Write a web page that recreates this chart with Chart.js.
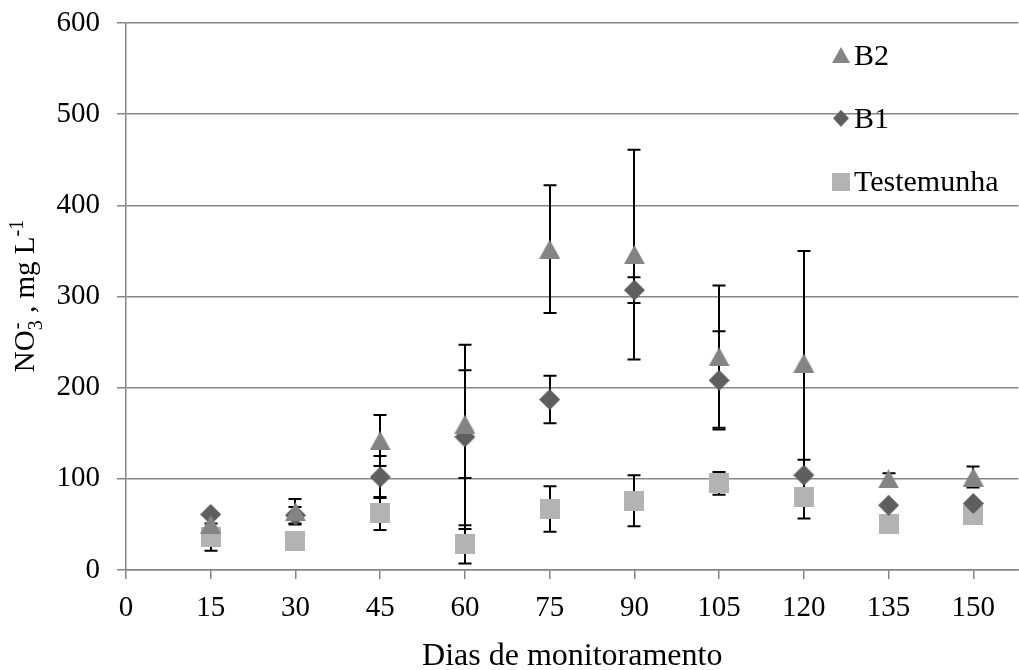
<!DOCTYPE html>
<html>
<head>
<meta charset="utf-8">
<title>NO3 - Dias de monitoramento</title>
<script src="https://cdn.jsdelivr.net/npm/chart.js@4.4.1/dist/chart.umd.min.js"></script>
<style>
    html, body { margin: 0; padding: 0; background: #fff; }
    #wrap { width: 1019px; height: 670px; }
    canvas { display: block; }
</style>
</head>
<body>
<div id="wrap"><canvas id="nitrateChart" width="1019" height="670"></canvas></div>
<script>
// Monitoring days and mean NO3- per treatment, with standard deviations
const days = [15, 30, 45, 60, 75, 90, 105, 120, 135, 150];

const b2Values = [50, 64, 142, 160, 352, 346, 234, 227, 100, 102];
const b2Errors = [null, 14, 28, 59, 70, 115, 78, 123, 6, 11.5];

const b1Values = [61, 60, 102, 146, 187, 307, 208, 104, 71, 73];
const b1Errors = [null, 9, 23, 101, 26, 14, 54, 17, null, null];

const testValues = [36, 32, 62, 28, 67, 76, 95, 80, 51, 60];
const testErrors = [15, null, 18, 21, 25, 28, 12.5, 23.5, null, null];

const xTicks = [0, 15, 30, 45, 60, 75, 90, 105, 120, 135, 150];
const yTicks = [0, 100, 200, 300, 400, 500, 600];

const FONT = "'Liberation Serif', 'Times New Roman', serif";
const AXIS_GRAY = '#868686';

// Build a small canvas used as point marker
function makeMarker(shape, w, h, color) {
    const c = document.createElement('canvas');
    c.width = w;
    c.height = h;
    const g = c.getContext('2d');
    g.fillStyle = color;
    g.beginPath();
    if (shape === 'triangle') {
        g.moveTo(w / 2, 0);
        g.lineTo(w, h);
        g.lineTo(0, h);
    } else if (shape === 'diamond') {
        g.moveTo(w / 2, 0);
        g.lineTo(w, h / 2);
        g.lineTo(w / 2, h);
        g.lineTo(0, h / 2);
    } else {
        g.rect(0, 0, w, h);
    }
    g.closePath();
    g.fill();
    return c;
}

const series = [
    { label: 'B2', values: b2Values, errors: b2Errors, shape: 'triangle', color: '#848484', size: [21, 19], legendSize: [18, 16] },
    { label: 'B1', values: b1Values, errors: b1Errors, shape: 'diamond', color: '#5e5e5e', size: [21, 21], legendSize: [16, 17] },
    { label: 'Testemunha', values: testValues, errors: testErrors, shape: 'square', color: '#b3b3b3', size: [20, 20], legendSize: [18, 18] }
];

// Error bars go under the markers
const errorBars = {
    id: 'errorBars',
    beforeDatasetsDraw(chart) {
        const ctx = chart.ctx;
        const xs = chart.scales.x;
        const ys = chart.scales.y;
        ctx.save();
        ctx.strokeStyle = '#000';
        ctx.lineWidth = 2;
        chart.data.datasets.forEach(ds => {
            ds.errors.forEach((e, i) => {
                if (e == null) return;
                const p = ds.data[i];
                const x = Math.round(xs.getPixelForValue(p.x));
                const top = ys.getPixelForValue(p.y + e);
                const bot = ys.getPixelForValue(p.y - e);
                ctx.beginPath();
                ctx.moveTo(x, top);
                ctx.lineTo(x, bot);
                ctx.moveTo(x - 6.5, top);
                ctx.lineTo(x + 6.5, top);
                ctx.moveTo(x - 6.5, bot);
                ctx.lineTo(x + 6.5, bot);
                ctx.stroke();
            });
        });
        ctx.restore();
    }
};

// Legend inside the plot, one item per row
const plotLegend = {
    id: 'plotLegend',
    afterDraw(chart) {
        const ctx = chart.ctx;
        ctx.save();
        ctx.font = '30px ' + FONT;
        ctx.fillStyle = '#000';
        ctx.textBaseline = 'middle';
        ctx.textAlign = 'left';
        series.forEach((s, i) => {
            const cy = 55 + i * 63.3;
            const [w, h] = s.legendSize;
            ctx.drawImage(makeMarker(s.shape, w, h, s.color), 841 - w / 2, cy - h / 2, w, h);
            ctx.fillText(s.label, 854, cy + 2);
        });
        ctx.restore();
    }
};

// Rotated y title with sub/superscripts: NO3-, mg L-1
const yTitle = {
    id: 'yTitle',
    afterDraw(chart) {
        const ctx = chart.ctx;
        const big = '29px ' + FONT;
        const small = '20px ' + FONT;
        const parts = [
            { t: 'NO', f: big, dy: 0 },
            { t: '3', f: small, dy: 8, stack: '-' },
            { t: ' , mg L', f: big, dy: 0 },
            { t: '-1', f: small, dy: -11 }
        ];
        ctx.save();
        let total = 0;
        parts.forEach(p => {
            ctx.font = p.f;
            p.w = ctx.measureText(p.t).width;
            if (p.stack) p.w = Math.max(p.w, ctx.measureText(p.stack).width);
            total += p.w;
        });
        ctx.translate(34, 296);
        ctx.rotate(-Math.PI / 2);
        ctx.fillStyle = '#000';
        ctx.textBaseline = 'alphabetic';
        let x = -total / 2;
        parts.forEach(p => {
            ctx.font = p.f;
            ctx.fillText(p.t, x, p.dy);
            if (p.stack) ctx.fillText(p.stack, x + 1, -11);
            x += p.w;
        });
        ctx.restore();
    }
};

new Chart(document.getElementById('nitrateChart'), {
    type: 'scatter',
    data: {
        datasets: series.map(s => ({
            label: s.label,
            data: days.map((d, i) => ({ x: d, y: s.values[i] })),
            errors: s.errors,
            pointStyle: makeMarker(s.shape, s.size[0], s.size[1], s.color),
            // tiny radius keeps the layout from reserving overflow room on the right
            pointRadius: 0.5,
            pointHoverRadius: 0.5,
            pointBorderWidth: 0,
            backgroundColor: s.color,
            borderColor: s.color,
            showLine: false,
            clip: false
        }))
    },
    options: {
        responsive: false,
        devicePixelRatio: 1,
        animation: false,
        layout: { padding: { top: 23, left: 0, right: 0, bottom: 0 } },
        plugins: {
            legend: { display: false },
            tooltip: { enabled: false }
        },
        scales: {
            x: {
                type: 'linear',
                min: 0,
                max: 158,
                afterBuildTicks: scale => { scale.ticks = xTicks.map(v => ({ value: v })); },
                afterFit: scale => {
                    scale.height = 100;
                    scale.paddingLeft = 0;
                    scale.paddingRight = 0;
                },
                grid: { drawOnChartArea: false, tickLength: 9, color: AXIS_GRAY, lineWidth: 1.5 },
                border: { color: AXIS_GRAY, width: 1.5 },
                ticks: { color: '#000', font: { family: FONT, size: 29 }, padding: 12, maxRotation: 0 },
                title: {
                    display: true,
                    text: 'Dias de monitoramento',
                    color: '#000',
                    font: { family: FONT, size: 32 },
                    padding: { top: 0, bottom: -6 }
                }
            },
            y: {
                min: 0,
                max: 600,
                afterBuildTicks: scale => { scale.ticks = yTicks.map(v => ({ value: v })); },
                afterFit: scale => {
                    scale.width = 126;
                    scale.paddingTop = 0;
                    scale.paddingBottom = 0;
                },
                grid: { tickLength: 9, color: AXIS_GRAY, lineWidth: 1.5 },
                border: { color: AXIS_GRAY, width: 1.5 },
                ticks: { color: '#000', font: { family: FONT, size: 29 }, padding: 17 }
            }
        }
    },
    plugins: [errorBars, plotLegend, yTitle]
});
</script>
</body>
</html>
